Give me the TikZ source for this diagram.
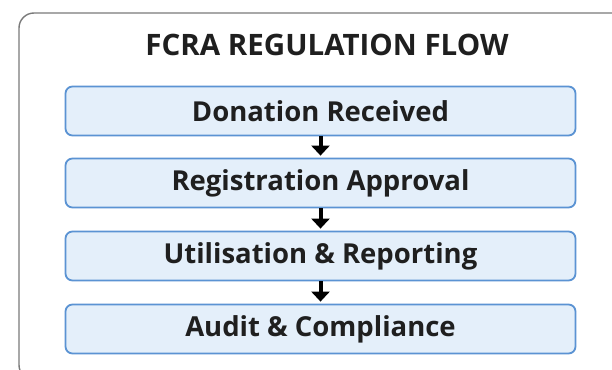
\documentclass[tikz,border=0pt]{standalone}
\usepackage{fontspec}
\setmainfont[Ligatures={NoCommon}]{Open Sans}
\usetikzlibrary{arrows.meta}
\definecolor{boxfill}{HTML}{E4EFFA}
\definecolor{boxedge}{HTML}{5B93D3}
\definecolor{frame}{HTML}{7A7A7A}
\tikzset{
  stepbox/.style={draw=boxedge, line width=1.8pt, fill=boxfill, rounded corners=7pt,
    minimum width=510pt, minimum height=49pt, inner sep=0pt,
    font=\fontsize{27.5}{32}\selectfont\bfseries, text=black!88},
  flowarrow/.style={-{Triangle[length=10pt,width=18pt]}, line width=4pt, black, shorten >=2pt},
  titletext/.style={font=\fontsize{29.5}{34}\selectfont\bfseries, text=black!88}
}
\begin{document}
\begin{tikzpicture}[x=1pt,y=1pt]
\useasboundingbox (0,0) rectangle (612,-369);
\fill[white] (0,0) rectangle (612,-369);
\draw[frame, line width=1.4pt, rounded corners=15pt] (19,-13) rectangle (640,-380);
\node[titletext] (title) at (327,-45) {FCRA REGULATION FLOW};
\node[stepbox] (b1) at (320.5,-111) {Donation Received};
\node[stepbox] (b2) at (320.5,-183) {Registration Approval};
\node[stepbox] (b3) at (320.5,-256) {Utilisation \& Reporting};
\node[stepbox] (b4) at (320.5,-329) {Audit \& Compliance};
\draw[flowarrow] (b1.south) -- (b2.north);
\draw[flowarrow] (b2.south) -- (b3.north);
\draw[flowarrow] (b3.south) -- (b4.north);
\end{tikzpicture}
\end{document}
